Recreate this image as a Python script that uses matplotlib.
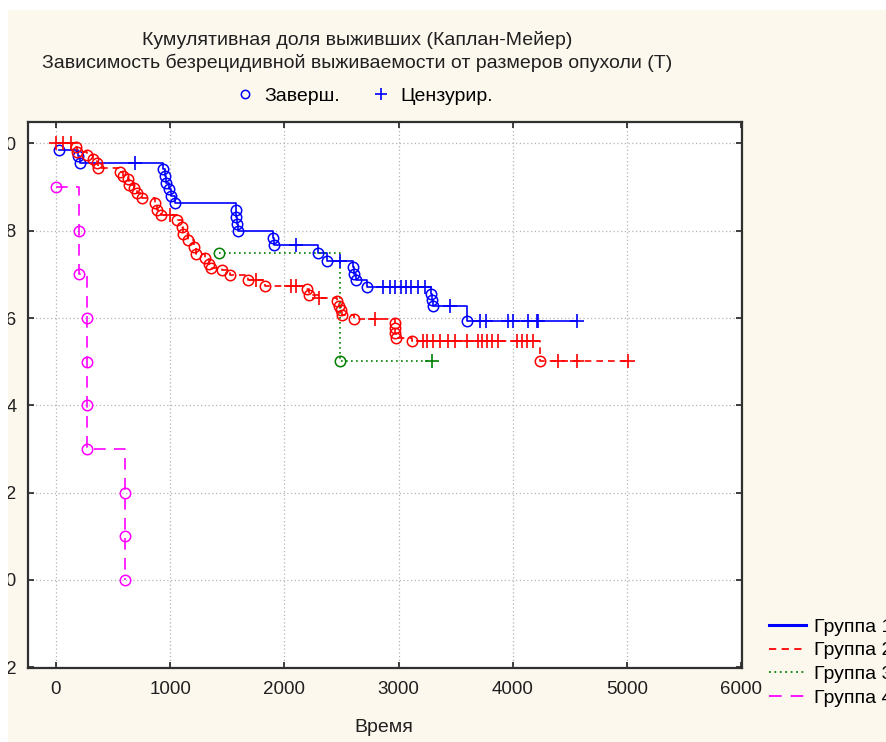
import matplotlib
matplotlib.use("Agg")
import matplotlib.pyplot as plt
from matplotlib.lines import Line2D
from matplotlib.patches import Rectangle

plt.rcParams['font.family'] = ['Liberation Sans', 'DejaVu Sans']

# ---------------- data ----------------
title1 = "Кумулятивная доля выживших (Каплан-Мейер)"
title2 = "Зависимость безрецидивной выживаемости от размеров опухоли (Т)"
xlabel = "Время"
group_labels = ["Группа 1", "Группа 2", "Группа 3", "Группа 4"]
marker_labels = ["Заверш.", "Цензурир."]

x_ticks = [0, 1000, 2000, 3000, 4000, 5000, 6000]
y_ticks = [-0.2, 0.0, 0.2, 0.4, 0.6, 0.8, 1.0]

# Group 1 (blue)
g1_event_t = [30, 190, 210, 940, 950, 965, 985, 1010, 1040, 1580, 1580, 1585, 1590,
              1900, 1910, 2290, 2370, 2600, 2610, 2625, 2720, 3280, 3290, 3300, 3600]
g1_event_s = [0.985, 0.971, 0.956, 0.941, 0.925, 0.910, 0.895, 0.879, 0.864, 0.848, 0.832,
              0.816, 0.800, 0.784, 0.767, 0.749, 0.731, 0.716, 0.701, 0.686, 0.671,
              0.656, 0.642, 0.628, 0.593]
g1_cens_t = [690, 2100, 2490, 2860, 2920, 2970, 3020, 3060, 3110, 3170, 3230, 3450,
             3710, 3760, 3960, 4000, 4130, 4210, 4220, 4560]
g1_cens_s = [0.956, 0.767, 0.731, 0.671, 0.671, 0.671, 0.671, 0.671, 0.671, 0.671, 0.671,
             0.628, 0.593, 0.593, 0.593, 0.593, 0.593, 0.593, 0.593, 0.593]

# Group 2 (red)
g2_event_t = [175, 184, 272, 324, 359, 368, 560, 587, 631, 640, 683, 709, 753, 867, 884,
              920, 1060, 1104, 1112, 1156, 1209, 1226, 1305, 1340, 1357, 1454, 1524, 1682,
              1830, 2198, 2216, 2461, 2478, 2496, 2505, 2610, 2969, 2969, 2969, 2978, 3118,
              4239]
g2_event_s = [0.991, 0.981, 0.974, 0.965, 0.955, 0.944, 0.935, 0.926, 0.919, 0.905, 0.898,
              0.887, 0.875, 0.863, 0.847, 0.836, 0.825, 0.809, 0.793, 0.779, 0.763, 0.747,
              0.738, 0.724, 0.715, 0.710, 0.699, 0.687, 0.674, 0.667, 0.653, 0.639, 0.628,
              0.618, 0.608, 0.598, 0.589, 0.577, 0.566, 0.554, 0.548, 0.502]
g2_cens_t = [0, 60, 130, 1000, 1752, 2058, 2102, 2303, 2790, 3214, 3249, 3302, 3363, 3433,
             3494, 3599, 3696, 3731, 3774, 3818, 3871, 4037, 4081, 4125, 4178, 4397, 4563,
             5010]
g2_cens_s = [1.0, 1.0, 1.0, 0.836, 0.687, 0.674, 0.674, 0.646, 0.598, 0.548, 0.548, 0.548,
             0.548, 0.548, 0.548, 0.548, 0.548, 0.548, 0.548, 0.548, 0.548, 0.548, 0.548,
             0.548, 0.548, 0.502, 0.502, 0.502]

# Group 3 (green)
g3_event_t = [1430, 2490]
g3_event_s = [0.749, 0.502]
g3_cens_t = [3290]
g3_cens_s = [0.502]

# Group 4 (magenta)
g4_event_t = [0, 200, 200, 270, 270, 270, 270, 600, 600, 600]
g4_event_s = [0.9, 0.8, 0.7, 0.6, 0.5, 0.4, 0.3, 0.2, 0.1, 0.0]
g4_cens_t = []
g4_cens_s = []

groups = [
    (g1_event_t, g1_event_s, g1_cens_t, g1_cens_s),
    (g2_event_t, g2_event_s, g2_cens_t, g2_cens_s),
    (g3_event_t, g3_event_s, g3_cens_t, g3_cens_s),
    (g4_event_t, g4_event_s, g4_cens_t, g4_cens_s),
]

# ---------------- styles ----------------
colors = ['#0000FF', '#FF0000', '#008000', '#FF00FF']
styles = ['-', (0, (4, 3)), (0, (1, 2)), (0, (7, 5))]
widths = [1.2, 1.2, 1.2, 1.2]

W, H = 887, 742
fig = plt.figure(figsize=(W / 100, H / 100), dpi=100, facecolor='#FDF8EE')
ax = fig.add_axes([28 / W, (H - 668) / H, 714 / W, 546 / H])
ax.set_facecolor('white')

for (et, es, ct, cs), c, ls, lw in zip(groups, colors, styles, widths):
    pts = sorted([(t, s, 0) for t, s in zip(et, es)] + [(t, s, 1) for t, s in zip(ct, cs)],
                 key=lambda p: (p[0], -p[1]))
    xs = [p[0] for p in pts]
    ys = [p[1] for p in pts]
    ax.plot(xs, ys, drawstyle='steps-post', color=c, linestyle=ls, lw=lw, zorder=3)
    ax.plot(et, es, linestyle='none', marker='o', ms=7.5, mfc='none', mec=c, mew=1.1, zorder=4)
    if ct:
        ax.plot(ct, cs, linestyle='none', marker='+', ms=10, mec=c, mew=1.2, zorder=4)

ax.set_xlim(-245, 6005)
ax.set_ylim(-0.2016, 1.049)
ax.set_xticks(x_ticks)
ax.set_xticklabels([str(v) for v in x_ticks])
ax.set_yticks(y_ticks)
ax.set_yticklabels(["%.1f" % v for v in y_ticks])
ax.grid(True, color='#b4b4b4', linestyle=(0, (1, 2)), lw=0.9)
ax.set_axisbelow(True)
for sp in ax.spines.values():
    sp.set_linewidth(1.6)
    sp.set_color('#303030')
ax.tick_params(direction='in', length=4, width=1.2, top=True, right=True,
               labelsize=13.5, colors='#202020')
ax.tick_params(axis='y', pad=8)
ax.tick_params(axis='x', pad=9)

fig.text(357 / W, 1 - 40 / H, title1, ha='center', va='center', fontsize=14, color='#202020')
fig.text(357 / W, 1 - 63 / H, title2, ha='center', va='center', fontsize=14, color='#202020')
fig.text(384 / W, 1 - 727 / H, xlabel, ha='center', va='center', fontsize=14, color='#202020')

mh = [Line2D([], [], ls='none', marker='o', ms=6, mfc='none', mec='#0000FF', mew=1.1),
      Line2D([], [], ls='none', marker='+', ms=8, mec='#0000FF', mew=1.2)]
fig.legend(mh, marker_labels, loc='center', bbox_to_anchor=(364 / W, 1 - 96 / H), ncol=2,
           frameon=False, fontsize=14, handlelength=1.0, columnspacing=1.6,
           handletextpad=0.5, borderpad=0, borderaxespad=0)

gh = [Line2D([], [], color=c, ls=ls, lw=(2.2 if i == 0 else 1.3))
      for i, (c, ls) in enumerate(zip(colors, styles))]
fig.legend(gh, group_labels, loc='upper left', bbox_to_anchor=(769 / W, 1 - 618 / H),
           frameon=False, fontsize=14, handlelength=1.9, handletextpad=0.4,
           labelspacing=0.32, borderpad=0, borderaxespad=0)

# white margins of the screenshot
fig.add_artist(Rectangle((0, 1 - 10 / H), 1, 10 / H, transform=fig.transFigure,
                         facecolor='white', edgecolor='none', zorder=10))
fig.add_artist(Rectangle((0, 0), 8 / W, 1, transform=fig.transFigure,
                         facecolor='white', edgecolor='none', zorder=10))

fig.savefig('out.png', dpi=100, facecolor=fig.get_facecolor())
